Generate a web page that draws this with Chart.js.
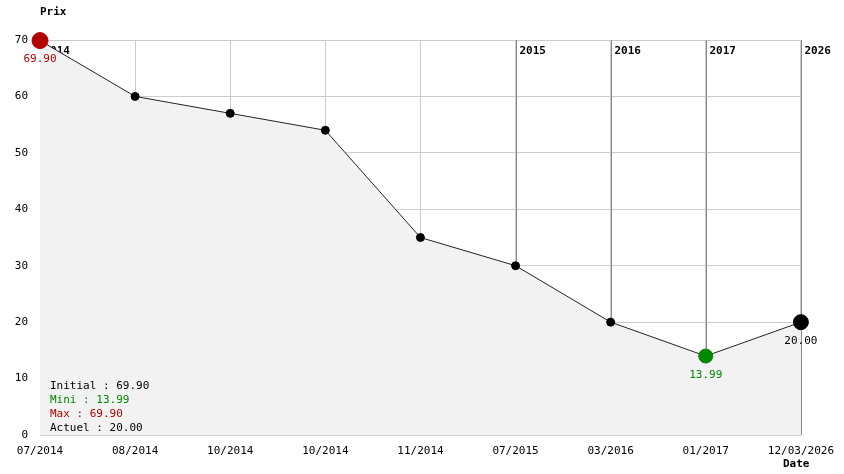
<!DOCTYPE html>
<html>
<head>
<meta charset="utf-8">
<script src="https://cdn.jsdelivr.net/npm/chart.js@4"></script>
<style>
  body { margin: 0; background: #fff; }
  #wrap { width: 844px; height: 474px; }
</style>
</head>
<body>
<div id="wrap"><canvas id="chart"></canvas></div>
<script>
// données
const dates = ['07/2014', '08/2014', '10/2014', '10/2014', '11/2014', '07/2015', '03/2016', '01/2017', '12/03/2026'];
const prix = [69.90, 60, 57, 54, 35, 30, 20, 13.99, 20.00];
const yearIdx = [0, 5, 6, 7, 8];
const yearLabels = ['2014', '2015', '2016', '2017', '2026'];
const summary = [
    ['Initial : 69.90', '#000'],
    ['Mini : 13.99', '#008800'],
    ['Max : 69.90', '#b30000'],
    ['Actuel : 20.00', '#000']
];

const FONT = '"DejaVu Sans Mono", "Liberation Mono", monospace';
const RED = '#b30000', GREEN = '#008800';

let pointColors = prix.map(() => '#000');
let pointRadius = prix.map(() => 4);
pointColors[0] = RED; pointRadius[0] = 8;
pointColors[7] = GREEN; pointRadius[7] = 7;
pointRadius[8] = 7.5;

// lignes des années + textes
const extras = {
    id: 'extras',
    beforeDatasetsDraw(chart) {
        const c = chart.ctx, x = chart.scales.x, a = chart.chartArea;
        c.save();
        c.strokeStyle = '#888';
        c.lineWidth = 1;
        c.fillStyle = '#000';
        c.font = 'bold 11px ' + FONT;
        c.textBaseline = 'middle';
        yearIdx.forEach((idx, i) => {
            let px = Math.round(x.getPixelForValue(idx)) + 0.5;
            c.beginPath();
            c.moveTo(px, a.top);
            c.lineTo(px, a.bottom);
            c.stroke();
            c.fillText(yearLabels[i], px + 3, a.top + 11);
        });
        c.restore();
    },
    afterDatasetsDraw(chart) {
        const c = chart.ctx, m = chart.getDatasetMeta(0).data;
        c.save();
        c.font = '11px ' + FONT;
        c.textBaseline = 'middle';
        summary.forEach((s, i) => {
            c.fillStyle = s[1];
            c.fillText(s[0], 50, 386 + i * 14);
        });
        c.textAlign = 'center';
        c.fillStyle = RED;
        c.fillText('69.90', m[0].x, m[0].y + 19);
        c.fillStyle = GREEN;
        c.fillText('13.99', m[7].x, m[7].y + 19);
        c.fillStyle = '#000';
        c.fillText('20.00', m[8].x, m[8].y + 19);
        c.font = 'bold 11px ' + FONT;
        c.textAlign = 'left';
        c.fillText('Prix', 40, 12);
        c.fillText('Date', 783, 464);
        c.restore();
    }
};

new Chart(document.getElementById('chart'), {
    type: 'line',
    data: {
        labels: dates,
        datasets: [{
            data: prix,
            borderColor: '#222',
            borderWidth: 1,
            backgroundColor: '#f2f2f2',
            fill: 'origin',
            tension: 0,
            clip: false,
            pointBackgroundColor: pointColors,
            pointBorderColor: pointColors,
            pointRadius: pointRadius,
            pointHoverRadius: pointRadius
        }]
    },
    options: {
        responsive: true,
        maintainAspectRatio: false,
        animation: false,
        events: [],
        layout: { padding: { top: 40, right: 35, left: 0, bottom: 0 } },
        plugins: { legend: { display: false }, tooltip: { enabled: false } },
        scales: {
            x: {
                offset: false,
                afterFit(s) { s.height = 39; },
                grid: { color: '#ccc', drawTicks: false },
                border: { display: false },
                ticks: { color: '#000', font: { family: FONT, size: 11 }, padding: 10, maxRotation: 0, autoSkip: false }
            },
            y: {
                min: 0, max: 70,
                afterFit(s) { s.width = 40; },
                grid: { color: '#ccc', drawTicks: false },
                border: { display: false },
                ticks: { stepSize: 10, color: '#000', font: { family: FONT, size: 11 }, padding: 12 }
            }
        }
    },
    plugins: [extras]
});
</script>
</body>
</html>
